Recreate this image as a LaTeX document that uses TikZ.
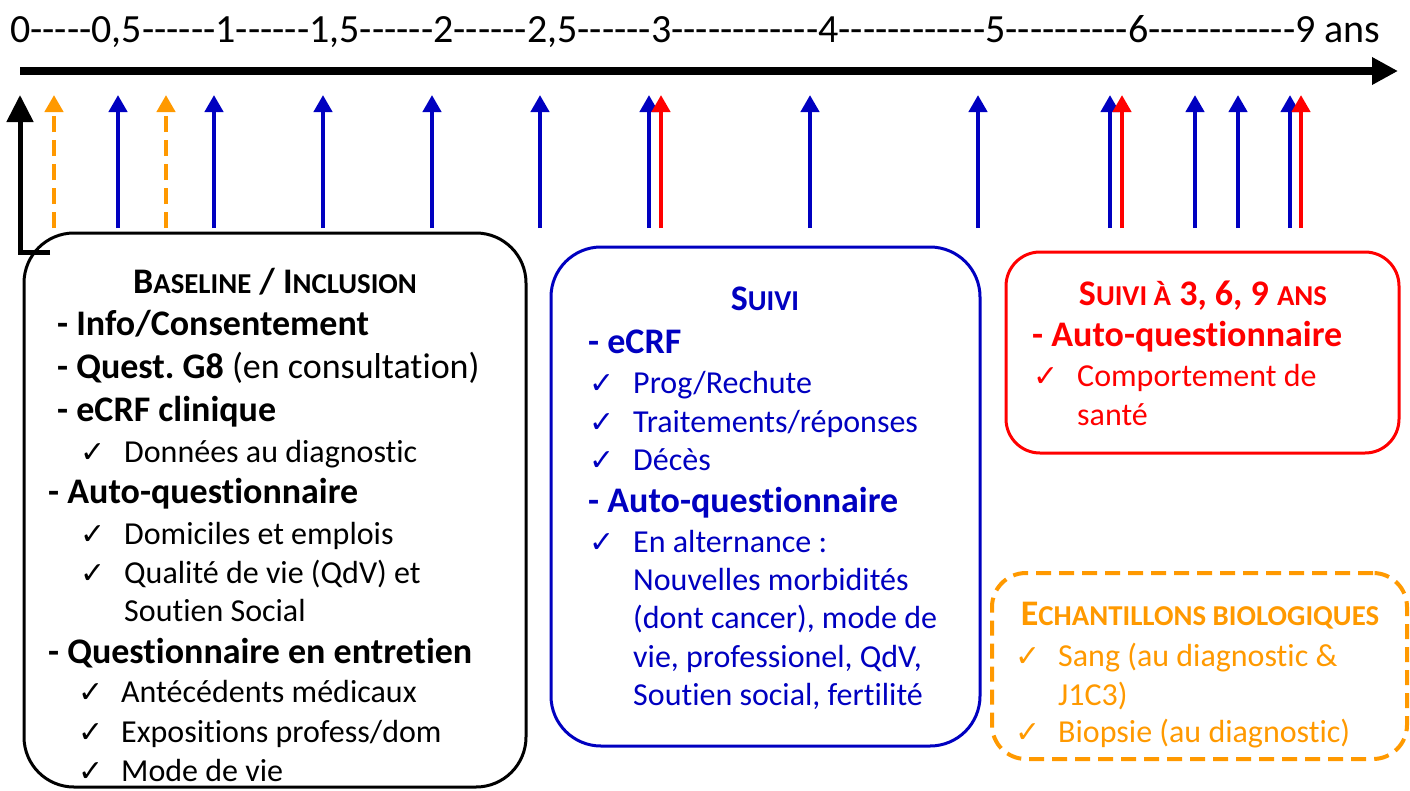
\documentclass[tikz,border=0pt]{standalone}
\usepackage{fontspec}
\setmainfont{Carlito}[Ligatures={NoCommon}]
\newfontfamily\dejavu{DejaVu Sans}
\usetikzlibrary{arrows.meta}
\definecolor{cblue}{RGB}{0,0,192}
\definecolor{cred}{RGB}{255,0,0}
\definecolor{corange}{RGB}{255,153,0}
\newcommand\smc[1]{{\fontsize{28.8}{30}\selectfont #1}}
\newcommand\chk{{\dejavu\fontsize{30}{30}\selectfont ✓}}
\newcommand\hy[1]{\foreach\i in {1,...,#1}{-\kern0pt}}
\frenchspacing
\begin{document}
\begin{tikzpicture}[x=1pt,y=-1pt,
  hd/.style={anchor=base west,inner sep=0pt,font=\fontsize{36}{40}\selectfont\bfseries},
  hdn/.style={anchor=base west,inner sep=0pt,font=\fontsize{36}{40}\selectfont},
  itm/.style={anchor=base west,inner sep=0pt,font=\fontsize{32}{38}\selectfont},
  ttl/.style={anchor=base,inner sep=0pt,font=\fontsize{36}{40}\selectfont\bfseries},
  ck/.style={anchor=base west,inner sep=0pt},
  boxshape/.style={draw,line width=3pt,inner sep=0pt},
  arr/.style={line width=4.5pt,-{Triangle[length=17pt,width=18pt]}},
]
\useasboundingbox (0,0) rectangle (1410,790);

% timeline
\node[anchor=base west,inner sep=0pt,font=\fontsize{40}{42}\selectfont] (scale) at (10,42)
 {0\hy{5}0,5\hy{6}1\hy{6}1,5\hy{6}2\hy{6}2,5\hy{6}3\hy{12}4\hy{12}5\hy{10}6\hy{12}9 ans};
\coordinate (t0) at (20,71);
\coordinate (t1) at (1398,71);
\draw[line width=8pt,-{Triangle[length=26pt,width=26pt]}] (t0) -- (t1);

% boxes
\node[boxshape,draw=black,rounded corners=50pt,minimum width=502pt,minimum height=554pt] (base) at (275,510) {};
\node[boxshape,draw=cblue,rounded corners=50pt,minimum width=429pt,minimum height=499pt] (suivi) at (765.5,496.5) {};
\node[boxshape,draw=cred,rounded corners=34pt,minimum width=393pt,minimum height=201pt] (s369) at (1202.5,352.5) {};
\node[boxshape,draw=corange,line width=4pt,dash pattern=on 15pt off 8pt,rounded corners=34pt,minimum width=415pt,minimum height=186pt] (bio) at (1199.5,666) {};

% black L arrow
\coordinate (L0) at (50,252);
\coordinate (L1) at (20,95);
\draw[line width=5pt,-{Triangle[length=27pt,width=26pt]}] (L0) -| (L1);

% small arrows
\foreach \x [count=\n] in {118,214,323,432,540,649,810,978,1110,1195,1238,1290}{
  \coordinate (bs\n) at (\x,228); \coordinate (be\n) at (\x,95);
  \draw[arr,cblue] (bs\n) -- (be\n);
}
\foreach \x [count=\n] in {661,1122,1301}{
  \coordinate (rs\n) at (\x,228); \coordinate (re\n) at (\x,95);
  \draw[arr,cred] (rs\n) -- (re\n);
}
\foreach \x [count=\n] in {54,166}{
  \coordinate (os\n) at (\x,228); \coordinate (oe\n) at (\x,95);
  \draw[arr,corange,dash pattern=on 16pt off 8pt] (os\n) -- (oe\n);
}

% box 1 text
\begin{scope}[text=black]
\node[ttl] (b1t) at (275,293) {B\smc{ASELINE} / I\smc{NCLUSION}};
\node[hd] (b1a) at (57,335) {- Info/Consentement};
\node[hdn] (b1b) at (57,378) {\textbf{- Quest. G8} (en consultation)};
\node[hd] (b1c) at (57,421) {- eCRF clinique};
\node[ck] (b1c1k) at (80,462) {\chk}; \node[itm] (b1c1) at (124,462) {Données au diagnostic};
\node[hd] (b1d) at (48,503) {- Auto-questionnaire};
\node[ck] (b1d1k) at (80,544) {\chk}; \node[itm] (b1d1) at (124,544) {Domiciles et emplois};
\node[ck] (b1d2k) at (80,583) {\chk}; \node[itm] (b1d2) at (124,583) {Qualité de vie (QdV) et};
\node[itm] (b1d3) at (124,621) {Soutien Social};
\node[hd] (b1e) at (48,663) {- Questionnaire en entretien};
\node[ck] (b1e1k) at (78,702) {\chk}; \node[itm] (b1e1) at (121,702) {Antécédents médicaux};
\node[ck] (b1e2k) at (78,742) {\chk}; \node[itm] (b1e2) at (121,742) {Expositions profess/dom};
\node[ck] (b1e3k) at (78,781) {\chk}; \node[itm] (b1e3) at (121,781) {Mode de vie};
\end{scope}

% box 2 text
\begin{scope}[every node/.append style={text=cblue}]
\node[ttl] (b2t) at (765,310) {S\smc{UIVI}};
\node[hd] (b2a) at (588,353) {- eCRF};
\node[ck] (b2a1k) at (589,393) {\chk}; \node[itm] (b2a1) at (633,393) {Prog/Rechute};
\node[ck] (b2a2k) at (589,432) {\chk}; \node[itm] (b2a2) at (633,432) {Traitements/réponses};
\node[ck] (b2a3k) at (589,470) {\chk}; \node[itm] (b2a3) at (633,470) {Décès};
\node[hd] (b2b) at (588,512) {- Auto-questionnaire};
\node[ck] (b2b1k) at (589,552) {\chk}; \node[itm] (b2b1) at (633,552) {En alternance :};
\node[itm] (b2b2) at (633,590) {Nouvelles morbidités};
\node[itm] (b2b3) at (633,628) {(dont cancer), mode de};
\node[itm] (b2b4) at (633,667) {vie, professionel, QdV,};
\node[itm] (b2b5) at (633,705) {Soutien social, fertilité};
\end{scope}

% box 3 text
\begin{scope}[every node/.append style={text=cred}]
\node[ttl] (b3t) at (1203,305) {S\smc{UIVI À} 3, 6, 9 \smc{ANS}};
\node[hd] (b3a) at (1032,346) {- Auto-questionnaire};
\node[ck] (b3a1k) at (1033,386) {\chk}; \node[itm] (b3a1) at (1077,386) {Comportement de};
\node[itm] (b3a2) at (1077,425) {santé};
\end{scope}

% box 4 text
\begin{scope}[every node/.append style={text=corange}]
\node[ttl] (b4t) at (1200,625) {E\smc{CHANTILLONS BIOLOGIQUES}};
\node[ck] (b4a1k) at (1015,666) {\chk}; \node[itm] (b4a1) at (1058,666) {Sang (au diagnostic \&};
\node[itm] (b4a2) at (1058,705) {J1C3)};
\node[ck] (b4a3k) at (1015,742) {\chk}; \node[itm] (b4a3) at (1058,742) {Biopsie (au diagnostic)};
\end{scope}
\end{tikzpicture}
\end{document}
